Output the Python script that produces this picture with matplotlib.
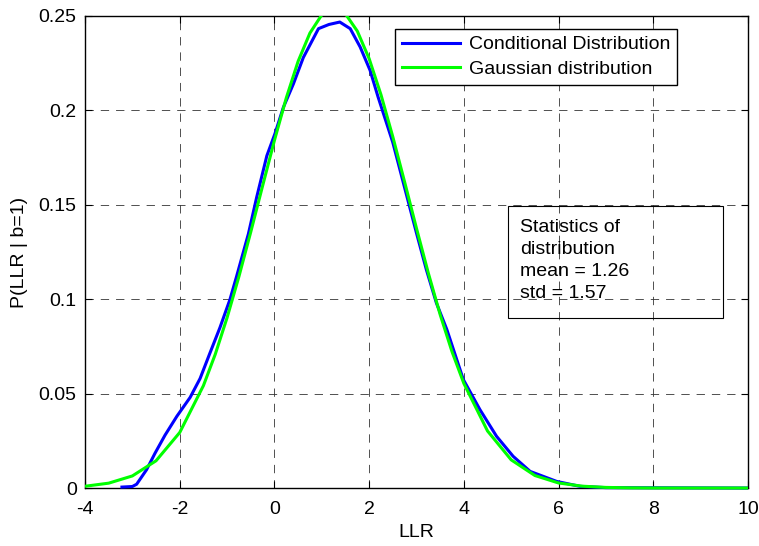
import numpy as np
import matplotlib
matplotlib.use('Agg')
import matplotlib.pyplot as plt
from matplotlib.patches import Rectangle

plt.rcParams['font.family'] = ['Liberation Sans', 'DejaVu Sans']
plt.rcParams['lines.scale_dashes'] = False
plt.rcParams['axes.unicode_minus'] = False

# conditional distribution of the LLR given b=1 (histogram estimate)
llr_cond = [-3.22, -3.0, -2.91, -2.70, -2.52, -2.31, -2.06, -1.78, -1.57, -1.36,
            -1.15, -0.94, -0.80, -0.55, -0.375, -0.16, 0.01, 0.19, 0.40, 0.61,
            0.93, 1.15, 1.38, 1.60, 1.81, 2.02, 2.19, 2.50, 2.75, 3.0, 3.21,
            3.42, 3.64, 3.99, 4.34, 4.69, 5.04, 5.40, 5.96, 6.45, 7.0, 10.0]
p_cond = [0.0005, 0.0008, 0.002, 0.0097, 0.0185, 0.028, 0.038, 0.048, 0.058, 0.0716,
          0.085, 0.0998, 0.112, 0.1346, 0.154, 0.176, 0.1876, 0.2017, 0.214, 0.228,
          0.2433, 0.2455, 0.2468, 0.2433, 0.2336, 0.2212, 0.207, 0.183, 0.159, 0.135, 0.1155,
          0.098, 0.084, 0.0574, 0.0415, 0.0274, 0.0168, 0.0088, 0.0035, 0.0009, 0.0002, 0.0]

# fitted gaussian, mean 1.26, std 1.57
llr_gauss = [-4.0, -3.5, -3.0, -2.5, -2.0, -1.5, -1.25, -1.0, -0.75, -0.5, -0.25,
             0.0, 0.25, 0.5, 0.75, 1.0, 1.25, 1.5, 1.75, 2.0, 2.25, 2.5, 2.75,
             3.0, 3.25, 3.5, 3.75, 4.0, 4.5, 5.0, 5.5, 6.0, 6.5, 7.0, 7.5, 8.0, 10.0]
p_gauss = [0.00093, 0.00257, 0.0064, 0.01443, 0.0294, 0.0542, 0.0708, 0.0902, 0.1120,
           0.1356, 0.1600, 0.1841, 0.2066, 0.2260, 0.2410, 0.2506, 0.2541, 0.2511,
           0.2420, 0.2274, 0.2083, 0.1860, 0.1620, 0.1375, 0.1138, 0.0918, 0.0722,
           0.0554, 0.0302, 0.0149, 0.00662, 0.00266, 0.00097, 0.00032, 0.0001,
           0.00002, 0.0]

xticks = [-4, -2, 0, 2, 4, 6, 8, 10]
yticks = [0, 0.05, 0.1, 0.15, 0.2, 0.25]
ytick_labels = ['0', '0.05', '0.1', '0.15', '0.2', '0.25']

fig = plt.figure(figsize=(7.59, 5.46), dpi=100)
ax = fig.add_axes([0.112, 0.1062, 0.8735, 0.8645])

# let the lines spill a few pixels below the x axis like matlab does
clip = Rectangle((0, -0.012), 1, 1.012, transform=ax.transAxes, facecolor='none', edgecolor='none')
ax.add_patch(clip)

l1, = ax.plot(llr_cond, p_cond, color=(0, 0, 1), lw=2.2, label='Conditional Distribution', zorder=3)
l2, = ax.plot(llr_gauss, p_gauss, color=(0, 1, 0), lw=2.2, label='Gaussian distribution', zorder=3)
l1.set_clip_path(clip)
l2.set_clip_path(clip)

ax.set_xlim(-4, 10)
ax.set_ylim(0, 0.25)
ax.set_xticks(xticks)
ax.set_yticks(yticks)
ax.set_yticklabels(ytick_labels)
ax.tick_params(direction='in', top=True, right=True, length=5, width=0.8,
               labelsize=14, pad=6)
ax.tick_params(axis='x', pad=9)
for s in ax.spines.values():
    s.set_linewidth(1.0)
ax.grid(True, color='#333333', linestyle=(0, (6, 5)), linewidth=0.6)
ax.set_axisbelow(True)

ax.set_xlabel('LLR', fontsize=14, labelpad=5)
ax.set_ylabel('P(LLR | b=1)', fontsize=14, labelpad=8)

leg = ax.legend(loc='upper left', bbox_to_anchor=(0.5204, 0.9469),
                bbox_transform=fig.transFigure, fontsize=14, fancybox=False,
                edgecolor='black', framealpha=1, borderaxespad=0, borderpad=0.35,
                handlelength=3.0, handletextpad=0.45, labelspacing=0.35)
leg.get_frame().set_linewidth(1.0)

# statistics textbox
fig.patches.append(Rectangle((0.669, 0.4176), 0.283, 0.205, transform=fig.transFigure,
                             facecolor='none', edgecolor='black', lw=0.8, zorder=5))
fig.text(0.685, 0.598, 'Statistics of\ndistribution\nmean = 1.26\nstd = 1.57',
         fontsize=14, va='top', ha='left', linespacing=1.38)

fig.savefig('out.png', dpi=100)
